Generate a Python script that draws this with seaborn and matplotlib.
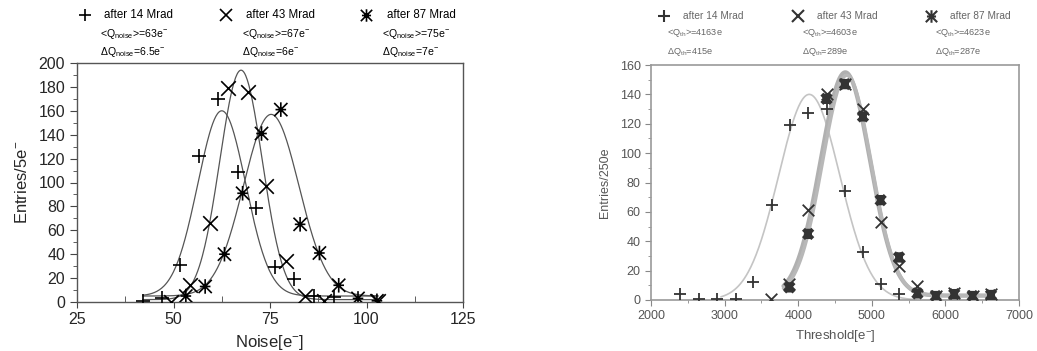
import numpy as np
import pandas as pd
import seaborn as sns
import matplotlib.pyplot as plt
from matplotlib.path import Path
from matplotlib.ticker import MultipleLocator

# left panel: noise distributions
noise_14_x = [42, 47, 51.7, 56.7, 61.5, 66.6, 71.5, 76.4, 81.3, 86.3, 91.5]
noise_14_y = [1, 3, 31, 122, 170, 109, 79, 29, 19, 5, 4]
noise_43_x = [49.3, 54.4, 59.5, 64, 69.2, 74, 79.1, 84.1, 89, 103]
noise_43_y = [0, 14, 66, 179, 176, 97, 34, 5, 1, 0.5]
noise_87_x = [53.2, 58.2, 63.2, 67.9, 72.8, 77.8, 82.8, 87.8, 92.8, 97.8, 102.7]
noise_87_y = [5, 13, 40, 91, 141, 161, 65, 41, 14, 3, 1]

# gaussian fits (mean, sigma, amplitude, offset)
noise_fit_mean = [62.5, 67.5, 75.3]
noise_fit_sigma = [6.2, 5.5, 7.2]
noise_fit_amp = [155, 192, 152]
noise_fit_base = [5, 2, 5]
noise_fit_range = [(42, 103), (42, 103), (42, 103)]

# right panel: threshold distributions
thr_14_x = [2400, 2650, 2900, 3150, 3390, 3640, 3890, 4135, 4385, 4635, 4880, 5120, 5370]
thr_14_y = [4, 0.5, 0.5, 0.5, 12.5, 65, 119, 127, 130, 74, 32.5, 10.7, 4]
thr_43_x = [3625, 3880, 4135, 4385, 4635, 4880, 5120, 5370, 5620, 5870, 6120, 6370, 6620]
thr_43_y = [1, 11, 61, 140, 147, 130, 53, 23, 9.5, 3, 5, 3, 4]
thr_87_x = [3880, 4135, 4385, 4635, 4880, 5120, 5370, 5620, 5870, 6120, 6370, 6620]
thr_87_y = [8.6, 45, 137, 147, 125, 68, 29, 4.5, 2.7, 4, 2.7, 3.4]

thr_fit_mean = [4150, 4640, 4660]
thr_fit_sigma = [415, 335, 330]
thr_fit_amp = [140, 152, 150]
thr_fit_base = [0, 3, 3]
thr_fit_range = [(2950, 5600), (3800, 6650), (3800, 6650)]

labels = ['after 14 Mrad', 'after 43 Mrad', 'after 87 Mrad']
noise_mean_txt = [r'<Q$_{\rm noise}$>=63e$^{-}$', r'<Q$_{\rm noise}$>=67e$^{-}$', r'<Q$_{\rm noise}$>=75e$^{-}$']
noise_sig_txt = [r'$\Delta$Q$_{\rm noise}$=6.5e$^{-}$', r'$\Delta$Q$_{\rm noise}$=6e$^{-}$', r'$\Delta$Q$_{\rm noise}$=7e$^{-}$']
thr_mean_txt = [r'<Q$_{\rm th}$>=4163e', r'<Q$_{\rm th}$>=4603e', r'<Q$_{\rm th}$>=4623e']
thr_sig_txt = [r'$\Delta$Q$_{\rm th}$=415e', r'$\Delta$Q$_{\rm th}$=289e', r'$\Delta$Q$_{\rm th}$=287e']

# star marker: an X with vertical and horizontal bars
star = Path([(-1, -1), (1, 1), (-1, 1), (1, -1), (0, -1.1), (0, 1.1), (-0.8, 0), (0.8, 0)],
            [Path.MOVETO, Path.LINETO] * 4)
markers = ['+', 'x', star]

sns.set_style('white')
plt.rcParams['font.family'] = ['Liberation Sans', 'DejaVu Sans']
plt.rcParams['mathtext.fontset'] = 'custom'
plt.rcParams['mathtext.rm'] = 'Liberation Sans'

W, H = 1037, 351
fig = plt.figure(figsize=(W / 100, H / 100), dpi=100)


def fig_xy(x, y):
    return x / W, 1 - y / H


def gauss_curve(mean, sigma, amp, base, rng):
    xs = np.linspace(rng[0], rng[1], 300)
    return pd.DataFrame({'x': xs, 'y': base + amp * np.exp(-(xs - mean) ** 2 / (2 * sigma ** 2))})


def marker_kw(i, color):
    if i == 2:
        return dict(edgecolor=color, facecolor='none')
    return dict(color=color)


def header(ax, xs_marker, xs_text, xs_rows, ys, fs, color, mcolor, mew, extra_rows):
    for i in range(3):
        mx, my = fig_xy(xs_marker[i], ys[0])
        ax.plot([mx], [my], marker=markers[i], ms=9, mew=mew, color=mcolor, mfc='none',
                transform=fig.transFigure, clip_on=False, ls='none')
        tx, ty = fig_xy(xs_text[i], ys[0])
        fig.text(tx, ty, labels[i], fontsize=fs, color=color, va='center')
        for j, rows in enumerate(extra_rows):
            rx, ry = fig_xy(xs_rows[i], ys[j + 1])
            fig.text(rx, ry, rows[i], fontsize=fs - 0.7, color=color, va='center')


# ---------------- left panel ----------------
ax1 = fig.add_axes([77 / W, 1 - 302 / H, (463 - 77) / W, (302 - 63) / H])
for i, (xs, ys) in enumerate([(noise_14_x, noise_14_y), (noise_43_x, noise_43_y), (noise_87_x, noise_87_y)]):
    c = gauss_curve(noise_fit_mean[i], noise_fit_sigma[i], noise_fit_amp[i], noise_fit_base[i], noise_fit_range[i])
    sns.lineplot(data=c, x='x', y='y', ax=ax1, color='#555555', lw=0.9)
    sns.scatterplot(x=xs, y=ys, ax=ax1, marker=markers[i], s=110, linewidth=1.2, zorder=3,
                    **marker_kw(i, 'black'))

ax1.set_xlim(25, 125)
ax1.set_ylim(0, 200)
ax1.xaxis.set_major_locator(MultipleLocator(25))
ax1.xaxis.set_minor_locator(MultipleLocator(12.5))
ax1.yaxis.set_major_locator(MultipleLocator(20))
ax1.yaxis.set_minor_locator(MultipleLocator(10))
ax1.tick_params(axis='both', which='both', labelsize=11.5, color='#444444', bottom=True, left=True)
ax1.tick_params(axis='y', which='major', direction='out', length=5)
ax1.tick_params(axis='y', which='minor', direction='out', length=3)
ax1.tick_params(axis='x', which='major', direction='out', length=4)
ax1.tick_params(axis='x', which='minor', direction='in', length=4)
for s in ax1.spines.values():
    s.set_color('#555555')
    s.set_linewidth(1.0)
ax1.set_xlabel(r'Noise[e$^{-}$]', fontsize=12)
ax1.set_ylabel(r'Entries/5e$^{-}$', fontsize=12, labelpad=6)

header(ax1, [85, 226, 366], [104, 246, 387], [100, 242, 382], [15, 34, 52], 8.3, 'black', 'black', 1.2,
       [noise_mean_txt, noise_sig_txt])

# ---------------- right panel ----------------
ax2 = fig.add_axes([651 / W, 1 - 300 / H, (1019 - 651) / W, (300 - 65) / H])
thr_styles = [('#c4c4c4', 1.2), ('#b0b0b0', 3.0), ('#b8b8b8', 2.5)]
for i, (xs, ys) in enumerate([(thr_14_x, thr_14_y), (thr_43_x, thr_43_y), (thr_87_x, thr_87_y)]):
    c = gauss_curve(thr_fit_mean[i], thr_fit_sigma[i], thr_fit_amp[i], thr_fit_base[i], thr_fit_range[i])
    sns.lineplot(data=c, x='x', y='y', ax=ax2, color=thr_styles[i][0], lw=thr_styles[i][1])
for i, (xs, ys) in enumerate([(thr_14_x, thr_14_y), (thr_43_x, thr_43_y), (thr_87_x, thr_87_y)]):
    sns.scatterplot(x=xs, y=ys, ax=ax2, marker=markers[i], s=70 if i < 2 else 55,
                    linewidth=1.3 if i < 2 else 3.0, zorder=3, **marker_kw(i, '#333333'))

ax2.set_xlim(2000, 7000)
ax2.set_ylim(0, 160)
ax2.xaxis.set_major_locator(MultipleLocator(1000))
ax2.xaxis.set_minor_locator(MultipleLocator(500))
ax2.yaxis.set_major_locator(MultipleLocator(20))
ax2.yaxis.set_minor_locator(MultipleLocator(10))
ax2.tick_params(axis='both', which='both', labelsize=9, labelcolor='#555555', color='#888888', bottom=True, left=True)
ax2.tick_params(axis='both', which='major', direction='out', length=4)
ax2.tick_params(axis='both', which='minor', direction='out', length=2.5)
for s in ax2.spines.values():
    s.set_color('#999999')
    s.set_linewidth(1.2)
ax2.set_xlabel(r'Threshold[e$^{-}$]', fontsize=9.5, color='#555555')
ax2.set_ylabel('Entries/250e', fontsize=9, color='#555555', labelpad=6)

header(ax2, [664, 798, 931], [683, 817, 950], [667, 802, 935], [16, 33, 52], 7.3, '#666666', '#333333', 1.5,
       [thr_mean_txt, thr_sig_txt])

fig.savefig('out.png', dpi=100)
